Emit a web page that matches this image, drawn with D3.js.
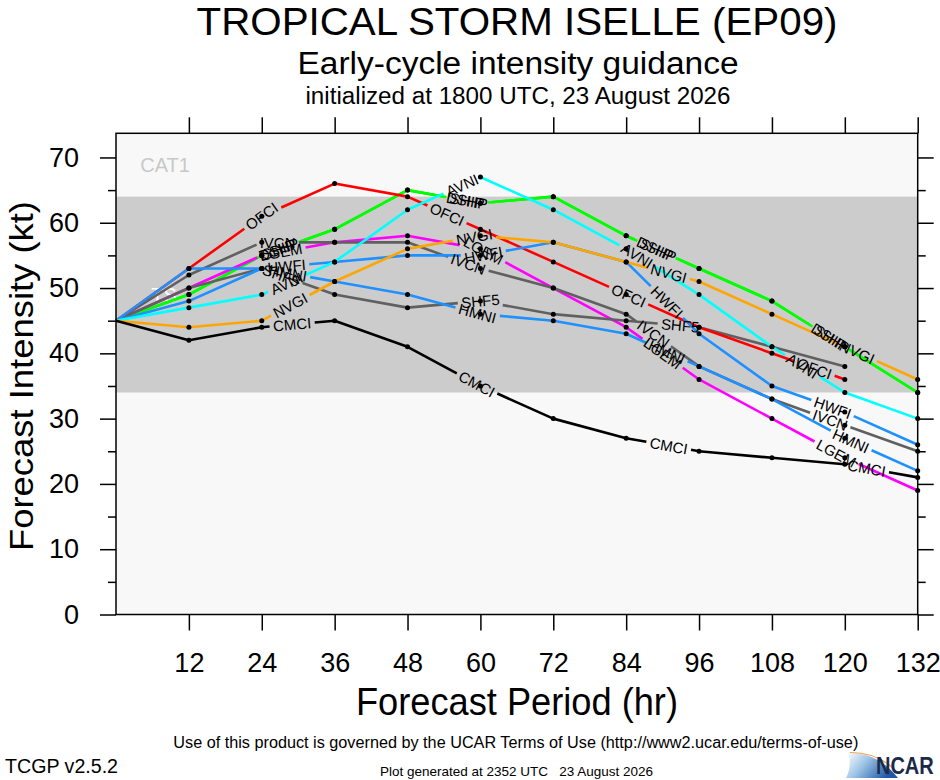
<!DOCTYPE html>
<html>
<head>
<meta charset="utf-8">
<script src="https://cdn.jsdelivr.net/npm/d3@7"></script>
<style>
body { margin: 0; background: #fff; }
svg { display: block; font-family: "Liberation Sans", Arial, Helvetica, sans-serif; }
</style>
</head>
<body>
<div class="container"></div>
<script>

// forecast hours and model intensities (kt), null = no forecast
var hours = [0, 12, 24, 36, 48, 60, 72, 84, 96, 108, 120, 132];

var ofci = [45, 53, 61, 66, 64, 59, 54, 49, 44, 40, 36, null];
var ship = [45, 49, 55, 59, 65, 63, 64, 58, 53, 48, 41, 34];
var dshp = [45, 49, 55, 59, 65, 63, 64, 58, 53, 48, 41, 34];
var avni = [45, 47, 49, 54, 62, 67, 62, 56, 49, 41, 34, 30];
var nvgi = [45, 44, 45, 51, 56, 58, 57, 54, 51, 46, 41, 36];
var lgem = [45, 50, 55, 57, 58, 56, 50, 44, 36, 30, 24, 19];
var hwfi = [45, 53, 53, 54, 55, 55, 57, 54, 43, 35, 31, 26];
var hmni = [45, 48, 53, 51, 49, 46, 45, 43, 38, 33, 27, 22];
var ivcn = [45, 52, 57, 57, 57, 53, 50, 46, 38, 33, 29, 25];
var shf5 = [45, 50, 53, 49, 47, 48, 46, 45, 44, 41, 38, null];
var cmci = [45, 42, 44, 45, 41, 35, 30, 27, 25, 24, 23, 21];

// drawing order, colours and where the line labels sit (hours)
var modelNames  = ["DSHP", "SHIP", "LGEM", "SHF5", "IVCN", "OFCI", "HMNI", "HWFI", "AVNI", "NVGI", "CMCI"];
var modelValues = [dshp, ship, lgem, shf5, ivcn, ofci, hmni, hwfi, avni, nvgi, cmci];
var modelColors = ["#00ee00", "#00ff00", "#ff00ff", "#606060", "#606060", "#ff0000", "#1e90ff", "#1e90ff", "#00ffff", "#ffa500", "#000000"];
var labelHours  = [
  [26.8, 57.8, 89, 117.6],
  [26.8, 57.8, 89, 117.6],
  [27.2, 60.5, 90, 118.6],
  [27.2, 60, 92.9],
  [26.6, 58, 88.5, 117.6],
  [24, 54.5, 84.4, 115],
  [28.3, 59.5, 90.7, 121],
  [28.1, 60.5, 90.7, 118],
  [28.1, 57, 85.8, 113],
  [28.7, 59, 91, 122],
  [29, 59.4, 91, 123.6]
];

var xTicks = [12, 24, 36, 48, 60, 72, 84, 96, 108, 120, 132];
var yTicks = [0, 10, 20, 30, 40, 50, 60, 70];
var yMinor = [5, 15, 25, 35, 45, 55, 65];
var tsBand = [34, 64];

var width = 940;
var height = 780;

var svg = d3.select(".container")
  .append("svg")
  .attr("width", width)
  .attr("height", height);

var x = d3.scaleLinear().domain([0, 132]).range([116, 917.7]);
var y = d3.scaleLinear().domain([0, 73.7]).range([614.5, 133.3]);

// plot background and tropical storm band
svg.append("rect")
  .attr("x", x(0)).attr("y", y(73.7))
  .attr("width", x(132) - x(0)).attr("height", y(0) - y(73.7))
  .attr("fill", "#f8f8f8");

svg.append("rect")
  .attr("x", x(0)).attr("y", y(tsBand[1]))
  .attr("width", x(132) - x(0)).attr("height", y(tsBand[0]) - y(tsBand[1]))
  .attr("fill", "#cccccc");

svg.append("text")
  .attr("x", x(4)).attr("y", y(67.8))
  .attr("font-size", 20).attr("fill", "#c8c8c8")
  .text("CAT1");

svg.append("text")
  .attr("x", x(5.8)).attr("y", y(47.9))
  .attr("font-size", 20).attr("fill", "#ffffff")
  .text("TS");

var lineLayer = svg.append("g");
var labelLayer = svg.append("g");
var dotLayer = svg.append("g");

var line = d3.line().x(function (d) { return d[0]; }).y(function (d) { return d[1]; });

modelNames.forEach(function (name, k) {
  var vals = modelValues[k];
  var pts = [];
  hours.forEach(function (h, i) {
    if (vals[i] != null) pts.push([x(h), y(vals[i]), h]);
  });

  // arc length along the polyline so labels can cut a gap in it
  var cum = [0];
  for (var i = 1; i < pts.length; i++) {
    cum.push(cum[i - 1] + Math.hypot(pts[i][0] - pts[i - 1][0], pts[i][1] - pts[i - 1][1]));
  }
  var total = cum[cum.length - 1];

  var gaps = [];
  labelHours[k].forEach(function (lh) {
    var j = 1;
    while (j < pts.length - 1 && pts[j][2] < lh) j++;
    var a = pts[j - 1], b = pts[j];
    var t = (lh - a[2]) / (b[2] - a[2]);
    var px = a[0] + t * (b[0] - a[0]);
    var py = a[1] + t * (b[1] - a[1]);
    var ang = Math.atan2(b[1] - a[1], b[0] - a[0]) * 180 / Math.PI;
    var s = cum[j - 1] + t * (cum[j] - cum[j - 1]);

    var txt = labelLayer.append("text")
      .attr("transform", "translate(" + px + "," + py + ") rotate(" + ang + ")")
      .attr("text-anchor", "middle")
      .attr("dy", "0.36em")
      .attr("font-size", 15)
      .attr("fill", "#000")
      .text(name);
    var w = txt.node().getComputedTextLength() + 7;
    gaps.push([s - w / 2, s + w / 2]);
  });

  var dash = [];
  var pos = 0;
  gaps.forEach(function (g) {
    var start = Math.max(pos, g[0]);
    dash.push(start - pos);
    dash.push(g[1] - start);
    pos = g[1];
  });
  dash.push(Math.max(0, total - pos) + 20);
  dash.push(0);

  lineLayer.append("path")
    .attr("d", line(pts))
    .attr("fill", "none")
    .attr("stroke", modelColors[k])
    .attr("stroke-width", 2.6)
    .attr("stroke-linejoin", "round")
    .attr("stroke-dasharray", dash.join(","));

  dotLayer.selectAll(null)
    .data(pts.filter(function (d) { return d[2] > 0; }))
    .enter().append("circle")
    .attr("cx", function (d) { return d[0]; })
    .attr("cy", function (d) { return d[1]; })
    .attr("r", 2.5)
    .attr("fill", "#000");
});

// frame
svg.append("rect")
  .attr("x", x(0)).attr("y", y(73.7))
  .attr("width", x(132) - x(0)).attr("height", y(0) - y(73.7))
  .attr("fill", "none").attr("stroke", "#000").attr("stroke-width", 1.5);

// axes, ticks outward on all four sides
function styleAxis(g) {
  g.select(".domain").remove();
  g.selectAll(".tick line").attr("stroke", "#000").attr("stroke-width", 1.5);
  g.selectAll(".tick text").attr("fill", "#000").attr("font-size", 27)
    .attr("font-family", "'Liberation Sans', Arial, Helvetica, sans-serif");
}

svg.append("g")
  .attr("transform", "translate(" + x(0) + ",0)")
  .call(d3.axisLeft(y).tickValues(yTicks).tickSize(16).tickPadding(21).tickFormat(d3.format("d")))
  .call(styleAxis);
svg.append("g")
  .attr("transform", "translate(" + x(0) + ",0)")
  .call(d3.axisLeft(y).tickValues(yMinor).tickSize(8).tickFormat(""))
  .call(styleAxis);
svg.append("g")
  .attr("transform", "translate(" + x(132) + ",0)")
  .call(d3.axisRight(y).tickValues(yTicks).tickSize(16).tickFormat(""))
  .call(styleAxis);
svg.append("g")
  .attr("transform", "translate(" + x(132) + ",0)")
  .call(d3.axisRight(y).tickValues(yMinor).tickSize(8).tickFormat(""))
  .call(styleAxis);
svg.append("g")
  .attr("transform", "translate(0," + y(0) + ")")
  .call(d3.axisBottom(x).tickValues(xTicks).tickSize(16).tickPadding(22))
  .call(styleAxis);
svg.append("g")
  .attr("transform", "translate(0," + y(73.7) + ")")
  .call(d3.axisTop(x).tickValues(xTicks).tickSize(16).tickFormat(""))
  .call(styleAxis);

// axis titles
svg.append("text")
  .attr("transform", "translate(33," + 376 + ") rotate(-90)")
  .attr("text-anchor", "middle")
  .attr("font-size", 34)
  .attr("textLength", 350).attr("lengthAdjust", "spacingAndGlyphs")
  .text("Forecast Intensity (kt)");

svg.append("text")
  .attr("x", 517).attr("y", 715)
  .attr("text-anchor", "middle")
  .attr("font-size", 39)
  .attr("textLength", 322).attr("lengthAdjust", "spacingAndGlyphs")
  .text("Forecast Period (hr)");

// titles
svg.append("text")
  .attr("x", 517).attr("y", 35)
  .attr("text-anchor", "middle").attr("font-size", 39)
  .attr("textLength", 641).attr("lengthAdjust", "spacingAndGlyphs")
  .text("TROPICAL STORM ISELLE (EP09)");

svg.append("text")
  .attr("x", 518).attr("y", 74)
  .attr("text-anchor", "middle").attr("font-size", 31)
  .attr("textLength", 441).attr("lengthAdjust", "spacingAndGlyphs")
  .text("Early-cycle intensity guidance");

svg.append("text")
  .attr("x", 518).attr("y", 104)
  .attr("text-anchor", "middle").attr("font-size", 23)
  .attr("textLength", 425).attr("lengthAdjust", "spacingAndGlyphs")
  .text("initialized at 1800 UTC, 23 August 2026");

// footer
svg.append("text")
  .attr("x", 173.3).attr("y", 748)
  .attr("font-size", 16)
  .attr("textLength", 685).attr("lengthAdjust", "spacingAndGlyphs")
  .text("Use of this product is governed by the UCAR Terms of Use (http://www2.ucar.edu/terms-of-use)");

svg.append("text")
  .attr("x", 5).attr("y", 772.5)
  .attr("font-size", 20)
  .attr("textLength", 113).attr("lengthAdjust", "spacingAndGlyphs")
  .text("TCGP v2.5.2");

svg.append("text")
  .attr("x", 380).attr("y", 776)
  .attr("font-size", 13)
  .attr("xml:space", "preserve")
  .style("white-space", "pre")
  .attr("textLength", 273).attr("lengthAdjust", "spacingAndGlyphs")
  .text("Plot generated at 2352 UTC   23 August 2026");

// NCAR logo
var defs = svg.append("defs");
var grad = defs.append("linearGradient").attr("id", "swoosh")
  .attr("x1", "0").attr("y1", "0").attr("x2", "1").attr("y2", "0.4");
grad.append("stop").attr("offset", "0").attr("stop-color", "#ffffff");
grad.append("stop").attr("offset", "0.45").attr("stop-color", "#9cc3e6");
grad.append("stop").attr("offset", "1").attr("stop-color", "#1f5aa6");

svg.append("path")
  .attr("d", "M848,753 C868,753 884,760 898,778 L846,778 C850,770 851,761 848,753 Z")
  .attr("fill", "url(#swoosh)");
svg.append("path")
  .attr("d", "M850,752.5 C868,752.5 882,758 893,768")
  .attr("fill", "none").attr("stroke", "#f0a050").attr("stroke-width", 1.2);

svg.append("text")
  .attr("transform", "translate(876,774) scale(1,1.2)")
  .attr("font-size", 20).attr("font-weight", "bold")
  .attr("fill", "#1b2a4a")
  .text("NCAR");

</script>
</body>
</html>
